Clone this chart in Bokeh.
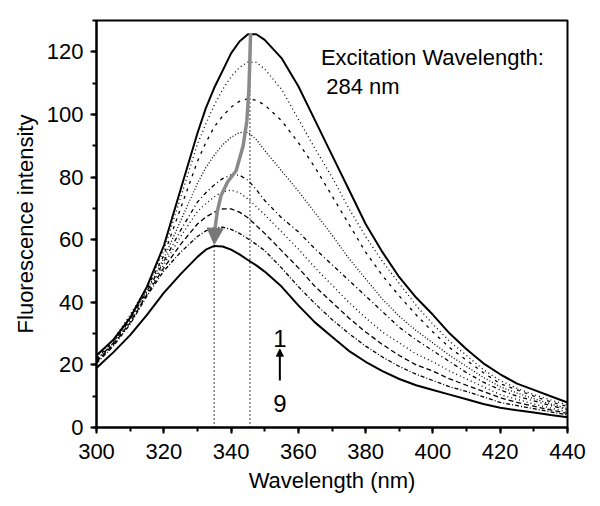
from bokeh.plotting import figure
from bokeh.embed import file_html
from bokeh.resources import INLINE
from bokeh.models import (Range1d, SingleIntervalTicker, Arrow, NormalHead, Label)

FONT = "Liberation Sans"

# ---- data ----
wl = [300, 305, 310, 315, 320, 325, 330, 332.5, 335, 337.5, 340, 342.5, 345, 347.5,
      350, 355, 360, 365, 370, 375, 380, 385, 390, 395, 400, 405, 410, 415, 420,
      425, 430, 435, 440]

c1 = [23, 28, 35, 45, 58, 76, 94, 102, 108.5, 114, 119.5, 123.3, 125.6, 125.6,
      123.8, 118, 109, 98, 87, 76, 65, 56, 48, 41.5, 36, 30, 25, 20.5, 17,
      14, 12, 10, 8]
c2 = [22.5, 28, 36, 45, 56.5, 73.5, 90.5, 97, 103, 108, 112, 115, 116.7, 116.6,
      114.5, 108, 98.5, 89, 80, 70, 61, 53, 46, 39, 33, 27.5, 23, 18.5, 15,
      12.5, 10.5, 8.8, 7.2]
c3 = [22, 27.5, 35.5, 44.5, 55, 70, 85, 91, 96, 99.5, 102.3, 104.2, 105, 104.5,
      103, 98, 91, 83, 74, 65, 56, 48.5, 42, 36, 30.5, 25.5, 21.5, 17.5, 14,
      12, 10, 8.2, 6.7]
c4 = [21.5, 27, 35, 44, 54, 66, 78, 83, 87, 90.3, 92.7, 94.2, 94.3, 92,
      88.5, 82, 75.5, 68.5, 61.5, 54, 47.5, 41, 35.5, 31, 27, 23, 19.5, 16, 13,
      11, 9.2, 7.5, 6]
c5 = [21.5, 27, 34.5, 43.5, 53, 63, 72, 75, 77.5, 79.5, 80.7, 80.6, 79, 76,
      72.5, 67, 62.5, 57, 52, 47, 42, 37, 32, 28, 24.5, 21, 17.5, 14.5, 12,
      10, 8.5, 7, 5.6]
c6 = [21, 26.5, 34, 43, 52, 61, 69, 71.5, 73.7, 75.3, 75.8, 75, 73, 70.5,
      68, 62.5, 57, 51, 45.5, 40, 35, 30.5, 27, 23.5, 21, 18, 15.5, 13, 10.5,
      9, 7.5, 6.2, 5]
c7 = [21, 26.5, 33.5, 42.5, 51, 58.5, 65, 67.2, 68.8, 69.8, 69.8, 68.8, 67, 64.5,
      62, 56.5, 51, 45, 40, 35, 30.5, 26.5, 23, 20, 18, 15.5, 13.5, 11.5, 9.5,
      8, 6.8, 5.6, 4.5]
c8 = [20.5, 26, 33, 42, 50, 56, 61, 62.8, 63.8, 64, 63.3, 62, 60.3, 58.5,
      56.5, 51, 45, 39.5, 34.5, 30, 26, 22.5, 19.5, 17, 15, 13, 11.5, 9.8, 8,
      7, 6, 5, 4]
c9 = [19, 24, 29.5, 36, 43, 49, 54.5, 56.8, 58, 57.8, 56.8, 55.3, 53.5, 51.8,
      49.8, 45, 39, 33.5, 29, 24.5, 21, 18, 15.5, 13.5, 12, 10.5, 9, 7.5, 6.3,
      5.5, 4.8, 4, 3.3]

curves = [c1, c2, c3, c4, c5, c6, c7, c8, c9]
dashes = ["solid", "1 3", "3 5", "1 2", "4 3 1 3", "1 3", "5 3", "4 2 1 2", "solid"]
widths = [2, 1.3, 1.3, 1.3, 1.3, 1.3, 1.3, 1.3, 2]

# peak-shift path (gray arrow) and peak markers
shift_x = [345.8, 345.6, 345.3, 344.7, 343.6, 341.5, 339.0, 337.0, 335.9, 335.3]
shift_y = [126, 118, 108, 98, 90, 82, 78.5, 74, 69, 64]
peak_lo_x, peak_lo_y = 335.0, 58
peak_hi_x, peak_hi_y = 345.6, 126

xticks_interval = 20
yticks_interval = 20

p = figure(width=600, height=506, output_backend="svg", toolbar_location=None,
           x_range=Range1d(300, 440), y_range=Range1d(0, 130),
           min_border_left=96, min_border_right=33, min_border_top=20,
           min_border_bottom=79)

p.grid.visible = False
p.outline_line_color = "black"
p.outline_line_width = 2
p.background_fill_color = "white"
p.border_fill_color = "white"

for ax, itv in ((p.xaxis, xticks_interval), (p.yaxis, yticks_interval)):
    ax.ticker = SingleIntervalTicker(interval=itv, num_minor_ticks=2)
    ax.axis_line_width = 2
    ax.major_tick_line_width = 2
    ax.minor_tick_line_width = 2
    ax.major_tick_out = 6
    ax.major_tick_in = 0
    ax.minor_tick_out = 4
    ax.minor_tick_in = 0
    ax.major_label_text_font = FONT
    ax.major_label_text_font_size = "22px"
    ax.major_label_text_color = "black"
    ax.axis_label_text_font = FONT
    ax.axis_label_text_font_size = "22px"
    ax.axis_label_text_font_style = "normal"
    ax.axis_label_text_color = "black"

p.xaxis.axis_label = "Wavelength (nm)"
p.yaxis.axis_label = "Fluorescence intensity"
p.xaxis.major_label_standoff = 10
p.yaxis.major_label_standoff = 7
p.xaxis.axis_label_standoff = 6
p.yaxis.axis_label_standoff = 6

# vertical dotted lines at the peak positions
p.line([peak_lo_x, peak_lo_x], [0, peak_lo_y], line_color="black", line_width=1.5,
       line_dash="1 3")
p.line([peak_hi_x, peak_hi_x], [0, peak_hi_y], line_color="black", line_width=1.5,
       line_dash="1 3")

for c, d, w in zip(curves, dashes, widths):
    p.line(wl, c, line_color="black", line_width=w, line_dash=d)

# gray shift arrow
p.line(shift_x, shift_y, line_color="#8a8a8a", line_width=3.5)
p.add_layout(Arrow(end=NormalHead(size=16, fill_color="#777777", line_color="#777777"),
                   x_start=shift_x[-1], y_start=shift_y[-1],
                   x_end=peak_lo_x, y_end=peak_lo_y + 0.5,
                   line_color="#8a8a8a", line_width=3))

# 1 <- 9 annotation
p.add_layout(Arrow(end=NormalHead(size=7, fill_color="black", line_color="black"),
                   x_start=354.5, y_start=15, x_end=354.5, y_end=25,
                   line_color="black", line_width=2))
p.add_layout(Label(x=354.5, y=28.5, text="1", text_font=FONT, text_font_size="24px",
                   text_align="center", text_baseline="middle", text_color="black"))
p.add_layout(Label(x=354.5, y=7.8, text="9", text_font=FONT, text_font_size="24px",
                   text_align="center", text_baseline="middle", text_color="black"))

p.add_layout(Label(x=366.7, y=118.3, text="Excitation Wavelength:", text_font=FONT,
                   text_font_size="22px", text_align="left", text_baseline="middle",
                   text_color="black"))
p.add_layout(Label(x=368.3, y=108.8, text="284 nm", text_font=FONT,
                   text_font_size="22px", text_align="left", text_baseline="middle",
                   text_color="black"))

open("out.html", "w").write(file_html(p, INLINE))
